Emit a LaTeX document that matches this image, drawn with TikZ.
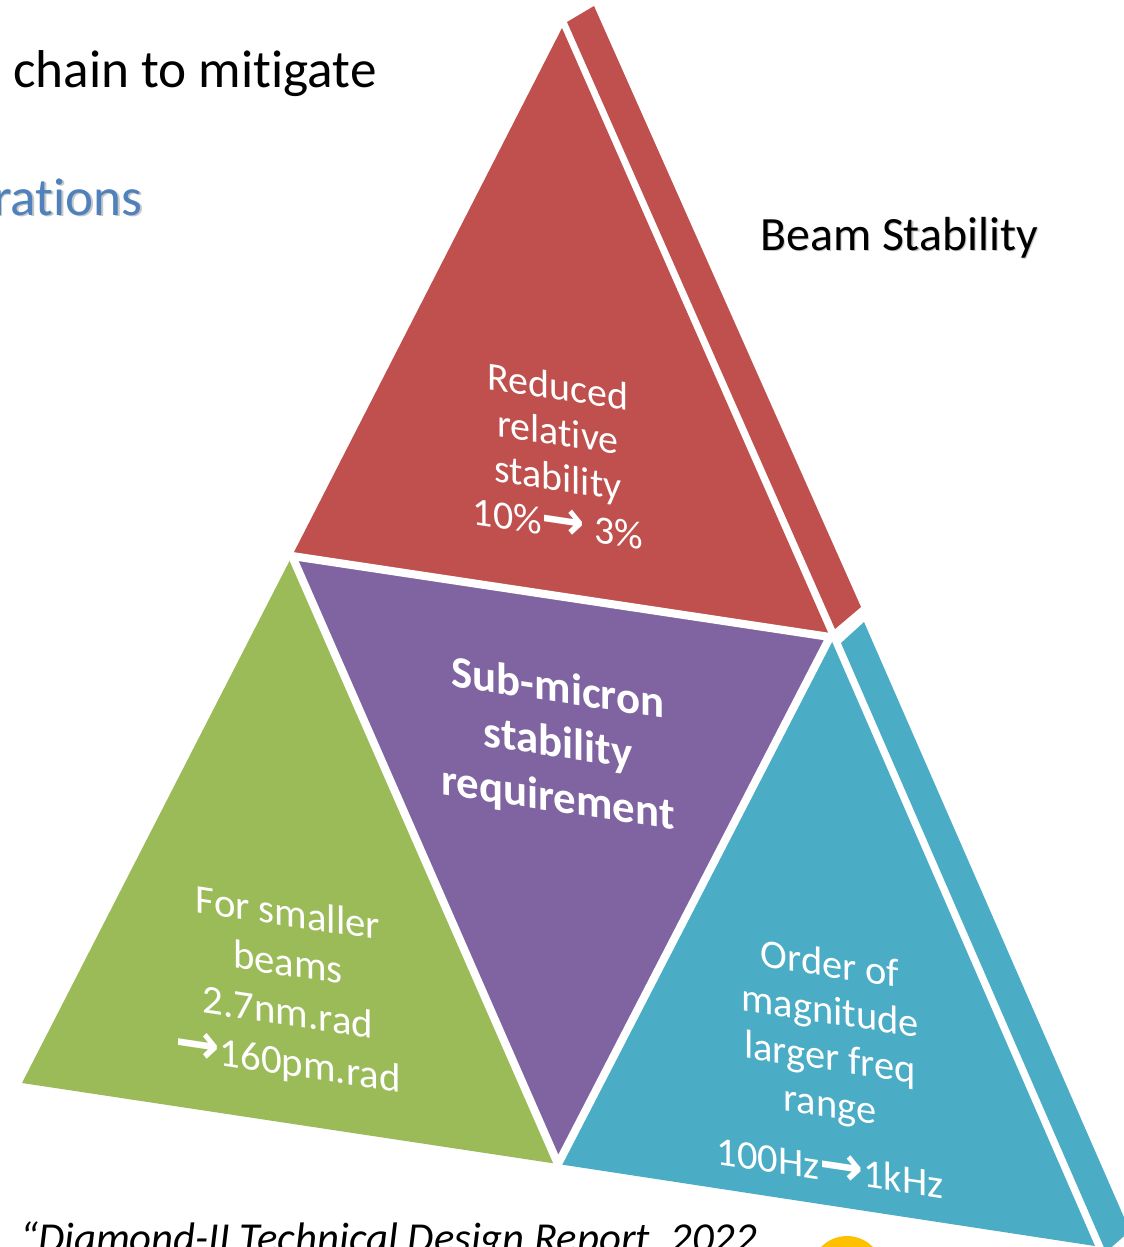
\documentclass[tikz,border=0pt]{standalone}
\usepackage{graphicx}
\usepackage{fontspec}
\setmainfont{Carlito}[Ligatures=NoCommon]
\newfontfamily\arrowfont{DejaVu Sans}
% heavy chevron arrow used inside the labels
\newcommand{\rarr}{\raisebox{-0.03em}{\scalebox{1.3}[1.4]{\arrowfont\bfseries →}}}

\definecolor{pyrred}{HTML}{C0504D}
\definecolor{pyrpurple}{HTML}{8064A2}
\definecolor{pyrgreen}{HTML}{9BBB59}
\definecolor{pyrblue}{HTML}{4BACC6}
\definecolor{headblue}{HTML}{4F81BD}
\definecolor{sunyellow}{HTML}{FFC000}

\begin{document}
\begin{tikzpicture}[x=0.02cm, y=-0.02cm,
  facetext/.style={text=white, align=center, inner sep=0pt, yslant=-0.15},
  gapline/.style={draw=white, line width=4.6pt, line join=miter},
  headtext/.style={inner sep=0pt, font=\fontsize{30.3}{35}\selectfont}]
\useasboundingbox (0,0) rectangle (1124,1247);
\clip (0,0) rectangle (1124,1247);

% corners of the big triangle and midpoints of its sides
\coordinate (A)  at (562,28);
\coordinate (B)  at (22,1083);
\coordinate (C)  at (1095,1246);
\coordinate (AB) at (292,556);
\coordinate (AC) at (830,637);
\coordinate (BC) at (558,1164);

% side faces (thickness strips)
\fill[pyrred]  (567,22) -- (594,6) -- (861,607) -- (835,629) -- cycle;
\fill[pyrblue] (841,643) -- (864,622) -- (1130,1231) -- (1106,1252) -- cycle;

% the four faces
\fill[pyrred]    (A)  -- (AB) -- (AC) -- cycle;
\fill[pyrpurple] (AB) -- (AC) -- (BC) -- cycle;
\fill[pyrgreen]  (AB) -- (B)  -- (BC) -- cycle;
\fill[pyrblue]   (AC) -- (BC) -- (C)  -- cycle;

% white gaps between the faces
\draw[gapline] (AB) -- (AC) -- (BC) -- cycle;

% face labels
\node[facetext, font=\fontsize{22.7}{26}\selectfont] (tred) at (558,455)
  {Reduced\\relative\\stability\\10\%\rarr{} 3\%};
\node[facetext, font=\bfseries\fontsize{25.5}{31.2}\selectfont] (tpurple) at (558,745)
  {Sub-micron\\stability\\requirement};
\node[facetext, font=\fontsize{23.2}{28.3}\selectfont] (tgreen) at (288,990)
  {For smaller\\beams\\2.7nm.rad\\\rarr160pm.rad};
\node[facetext, font=\fontsize{23}{26.6}\selectfont] (tblue) at (830,1066)
  {Order of\\magnitude\\larger freq\\range\\[10pt]100Hz\rarr1kHz};

% surrounding slide text
\node[headtext, anchor=base west] (chain) at (13,88) {chain to mitigate};
\node[headtext, text=black!22, anchor=base east] at (144.5,216.5) {rations};
\node[headtext, text=headblue, anchor=base east] (rations) at (143,215) {rations};
\node[inner sep=0pt, anchor=base west, text=black!22, font=\fontsize{27.2}{32}\selectfont] at (761.5,251.5) {Beam Stability};
\node[inner sep=0pt, anchor=base west, font=\fontsize{27.2}{32}\selectfont] (beam) at (760,250) {Beam Stability};
\node[inner sep=0pt, anchor=base west, font=\itshape\fontsize{24.3}{28}\selectfont] (report) at (20,1252)
  {“Diamond-II Technical Design Report, 2022};

% logo edge at the bottom
\fill[sunyellow] (847,1272) circle[radius=36];
\end{tikzpicture}
\end{document}
